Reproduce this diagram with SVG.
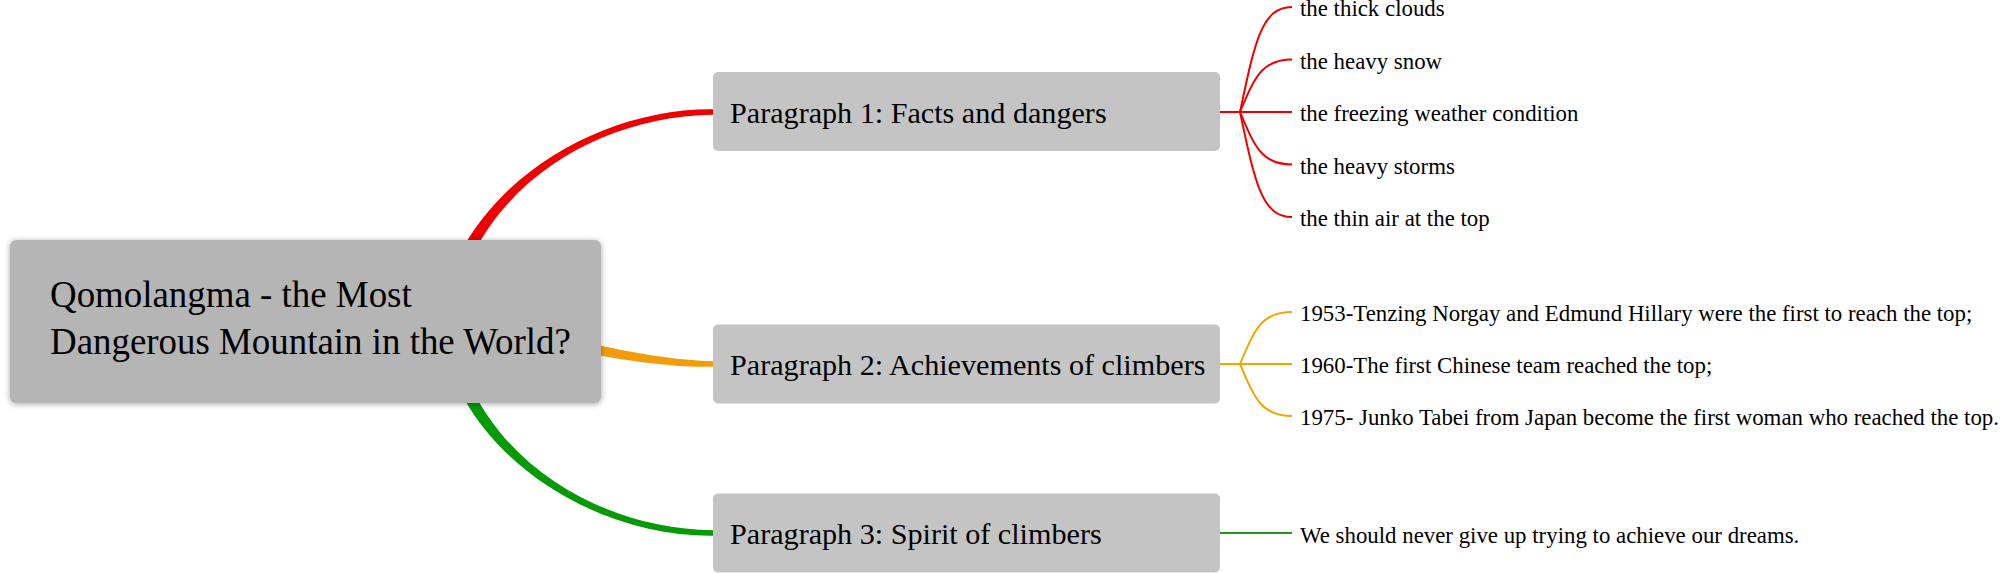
<svg xmlns="http://www.w3.org/2000/svg" width="2000" height="573" viewBox="0 0 2000 573">
<defs>
<filter id="sh" x="-10%" y="-20%" width="120%" height="140%">
<feGaussianBlur in="SourceAlpha" stdDeviation="3"/>
<feOffset dx="0" dy="1"/>
<feComponentTransfer><feFuncA type="linear" slope="0.35"/></feComponentTransfer>
<feMerge><feMergeNode/><feMergeNode in="SourceGraphic"/></feMerge>
</filter>
</defs>
<style>
text{font-family:"Liberation Serif","Times New Roman",serif;fill:#000}
.root{fill:#b5b5b5}
.main{fill:#c4c4c4}
.rt{font-size:36.9px}
.mt{font-size:30.15px}
.ct{font-size:22.85px}
.sub{fill:none;stroke-width:2}
.r{stroke:#ee0000}
.o{stroke:#f0a500}
.g{stroke:#1f9a1f}
</style>
<g id="connectors">
<path d="M 438.1 319.9 C 458.6 189 595 108 713 109.2 L 713 114.8 C 595 116 471.4 191 451.9 322.1 Z" fill="#ee0000"/>
<path d="M 445.8 314 C 520.8 323.5 630 359.5 713 361.2 L 713 366.8 C 630 368.5 519.2 336.5 444.2 328 Z" fill="#f39c0a"/>
<path d="M 438.1 325.1 C 458.6 456 595 537 713 535.8 L 713 530.2 C 595 529 471.4 454 451.9 322.9 Z" fill="#079a07"/>
<path class="sub r" d="M 1220 112 H 1240"/>
<path class="sub r" d="M 1240 112 C 1255 40.6 1262 7 1292 7"/>
<path class="sub r" d="M 1240 112 C 1255 76.3 1262 59.5 1292 59.5"/>
<path class="sub r" d="M 1240 112 H 1292"/>
<path class="sub r" d="M 1240 112 C 1255 147.7 1262 164.5 1292 164.5"/>
<path class="sub r" d="M 1240 112 C 1255 183.4 1262 217 1292 217"/>
<path class="sub o" d="M 1220 364 H 1240"/>
<path class="sub o" d="M 1240 364 C 1255 328.6 1262 312 1292 312"/>
<path class="sub o" d="M 1240 364 H 1292"/>
<path class="sub o" d="M 1240 364 C 1255 399.4 1262 416 1292 416"/>
<path class="sub g" d="M 1220 533 H 1292"/>
</g>
<g id="root">
<rect class="root" x="10" y="240" width="591" height="163" rx="6" filter="url(#sh)"/>
<text class="rt" x="50" y="307">Qomolangma - the Most</text>
<text class="rt" x="50" y="354">Dangerous Mountain in the World?</text>
</g>
<g id="p1">
<rect class="main" x="713" y="72" width="507" height="79" rx="5"/>
<text class="mt" x="730" y="122.5">Paragraph 1: Facts and dangers</text>
</g>
<g id="p2">
<rect class="main" x="713" y="324.5" width="507" height="79" rx="5"/>
<text class="mt" x="730" y="375">Paragraph 2: Achievements of climbers</text>
</g>
<g id="p3">
<rect class="main" x="713" y="493.5" width="507" height="79" rx="5"/>
<text class="mt" x="730" y="544">Paragraph 3: Spirit of climbers</text>
</g>
<g id="p1c1"><text class="ct" x="1300" y="16">the thick clouds</text></g>
<g id="p1c2"><text class="ct" x="1300" y="68.5">the heavy snow</text></g>
<g id="p1c3"><text class="ct" x="1300" y="121">the freezing weather condition</text></g>
<g id="p1c4"><text class="ct" x="1300" y="173.5">the heavy storms</text></g>
<g id="p1c5"><text class="ct" x="1300" y="226">the thin air at the top</text></g>
<g id="p2c1"><text class="ct" x="1300" y="321">1953-Tenzing Norgay and Edmund Hillary were the first to reach the top;</text></g>
<g id="p2c2"><text class="ct" x="1300" y="373">1960-The first Chinese team reached the top;</text></g>
<g id="p2c3"><text class="ct" x="1300" y="425">1975- Junko Tabei from Japan become the first woman who reached the top.</text></g>
<g id="p3c1"><text class="ct" x="1300" y="542.5">We should never give up trying to achieve our dreams.</text></g>
</svg>
